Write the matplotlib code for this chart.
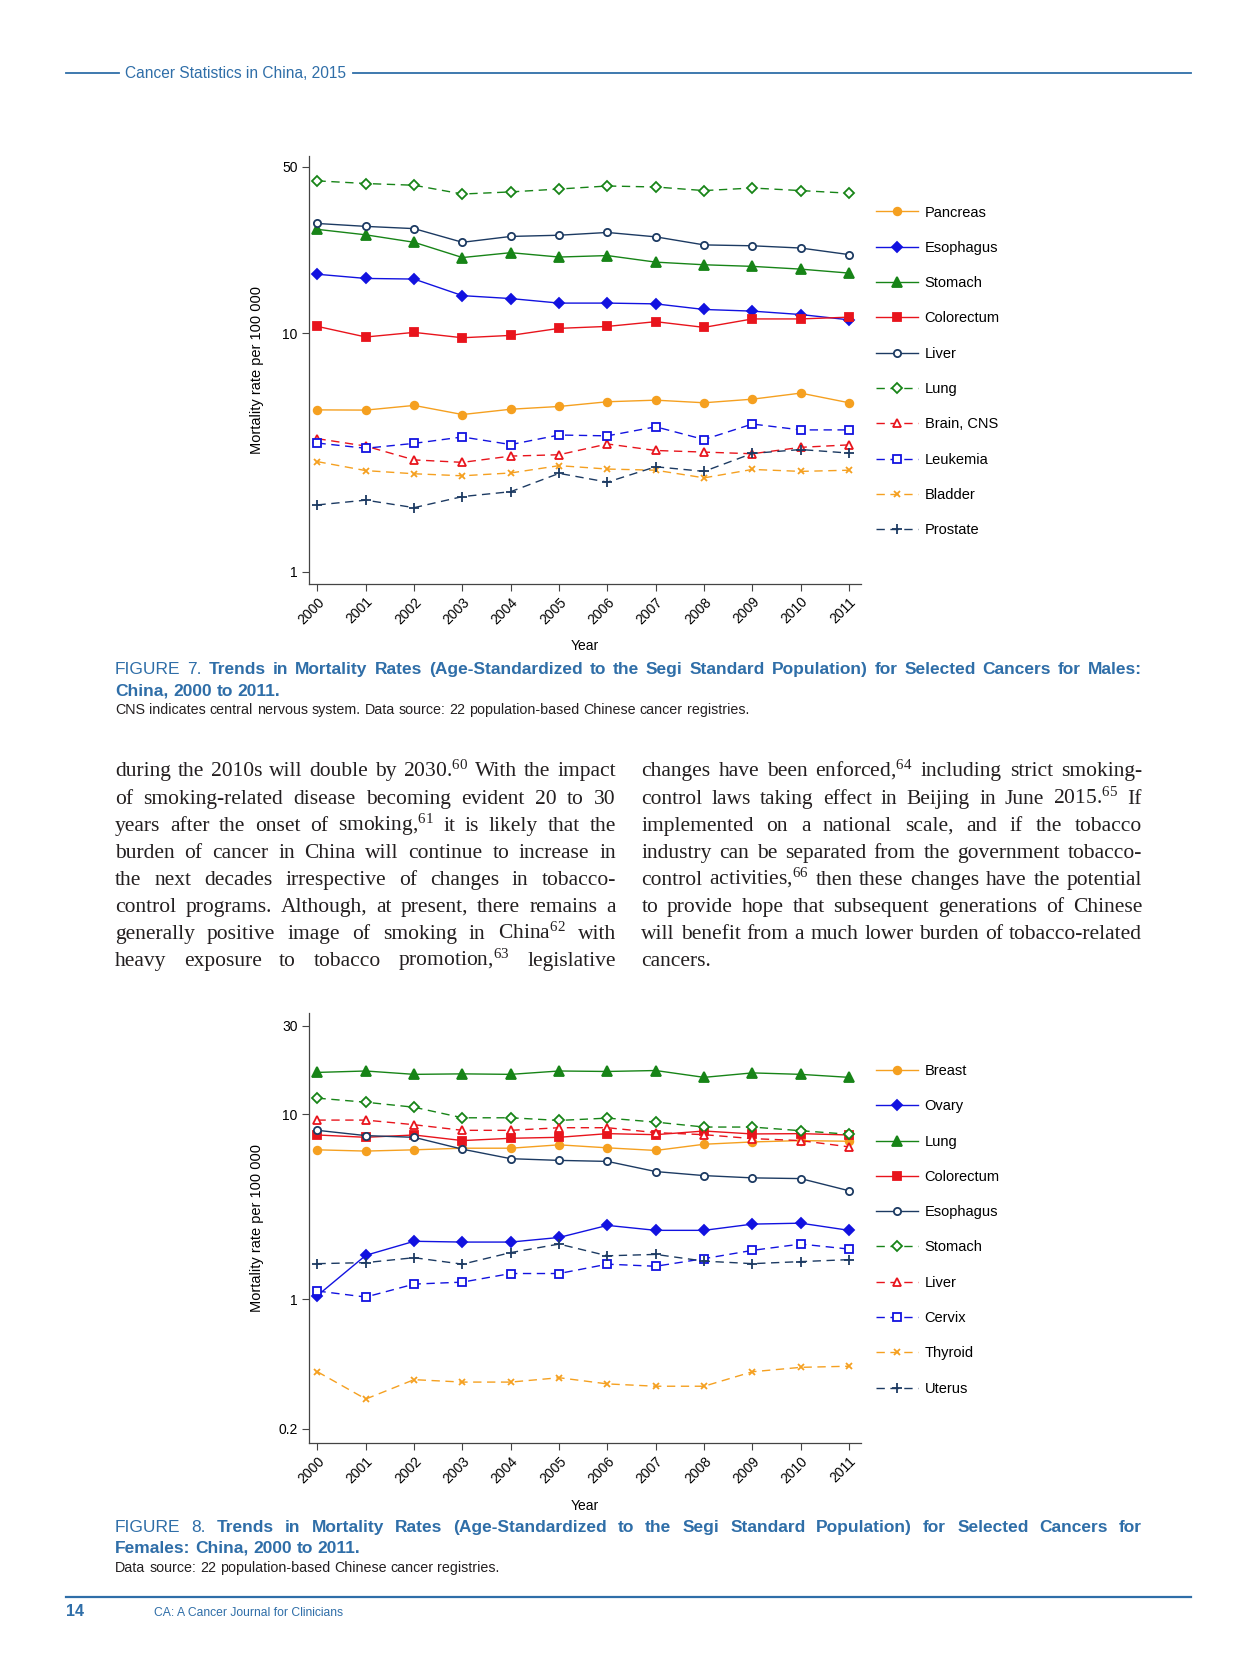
import matplotlib
matplotlib.use("Agg")
import matplotlib.pyplot as plt
from matplotlib.lines import Line2D

plt.rcParams["mathtext.fontset"] = "custom"
plt.rcParams["mathtext.rm"] = "Liberation Serif"
plt.rcParams["mathtext.it"] = "Liberation Serif:italic"

years = list(range(2000, 2012))

# Figure 7 - males
male_names = ["Pancreas", "Esophagus", "Stomach", "Colorectum", "Liver",
              "Lung", "Brain, CNS", "Leukemia", "Bladder", "Prostate"]
m_pancreas = [4.78, 4.77, 4.99, 4.57, 4.81, 4.94, 5.17, 5.25, 5.12, 5.30, 5.62, 5.12]
m_esophagus = [17.7, 17.0, 16.9, 14.4, 14.0, 13.4, 13.4, 13.3, 12.6, 12.4, 12.0, 11.4]
m_stomach = [27.3, 25.9, 24.1, 20.8, 21.8, 20.9, 21.2, 19.9, 19.4, 19.1, 18.6, 17.9]
m_colorectum = [10.7, 9.66, 10.1, 9.59, 9.81, 10.5, 10.7, 11.2, 10.6, 11.5, 11.5, 11.7]
m_liver = [28.9, 28.1, 27.5, 24.1, 25.5, 25.8, 26.5, 25.4, 23.5, 23.3, 22.8, 21.4]
m_lung = [43.6, 42.5, 41.8, 38.4, 39.2, 40.3, 41.5, 41.1, 39.7, 40.7, 39.7, 38.7]
m_brain = [3.62, 3.37, 2.95, 2.88, 3.06, 3.10, 3.44, 3.23, 3.18, 3.13, 3.33, 3.41]
m_leukemia = [3.47, 3.30, 3.46, 3.68, 3.42, 3.75, 3.72, 4.06, 3.59, 4.17, 3.94, 3.94]
m_bladder = [2.90, 2.66, 2.58, 2.53, 2.60, 2.79, 2.70, 2.67, 2.48, 2.69, 2.64, 2.67]
m_prostate = [1.91, 2.00, 1.86, 2.07, 2.17, 2.59, 2.38, 2.76, 2.64, 3.14, 3.26, 3.15]
male_series = [m_pancreas, m_esophagus, m_stomach, m_colorectum, m_liver,
               m_lung, m_brain, m_leukemia, m_bladder, m_prostate]

# Figure 8 - females
female_names = ["Breast", "Ovary", "Lung", "Colorectum", "Esophagus",
                "Stomach", "Liver", "Cervix", "Thyroid", "Uterus"]
f_breast = [6.42, 6.32, 6.42, 6.55, 6.55, 6.83, 6.58, 6.37, 6.88, 7.08, 7.20, 7.14]
f_ovary = [1.05, 1.73, 2.06, 2.04, 2.04, 2.16, 2.51, 2.36, 2.36, 2.55, 2.58, 2.36]
f_lung = [16.8, 17.1, 16.4, 16.5, 16.4, 17.1, 17.0, 17.2, 15.8, 16.7, 16.4, 15.8]
f_colorectum = [7.72, 7.50, 7.72, 7.20, 7.41, 7.50, 7.85, 7.75, 8.11, 7.82, 7.85, 7.72]
f_esophagus = [8.18, 7.66, 7.50, 6.47, 5.75, 5.63, 5.56, 4.90, 4.66, 4.53, 4.49, 3.86]
f_stomach = [12.2, 11.6, 10.9, 9.56, 9.56, 9.25, 9.52, 9.06, 8.52, 8.52, 8.14, 7.79]
f_liver = [9.29, 9.29, 8.77, 8.18, 8.18, 8.45, 8.45, 7.95, 7.75, 7.38, 7.20, 6.66]
f_cervix = [1.11, 1.03, 1.21, 1.24, 1.38, 1.38, 1.55, 1.51, 1.66, 1.84, 1.99, 1.87]
f_thyroid = [0.407, 0.290, 0.369, 0.358, 0.358, 0.378, 0.350, 0.340, 0.340, 0.407, 0.430, 0.436]
f_uterus = [1.56, 1.58, 1.68, 1.55, 1.79, 1.99, 1.72, 1.75, 1.61, 1.56, 1.60, 1.64]
female_series = [f_breast, f_ovary, f_lung, f_colorectum, f_esophagus,
                 f_stomach, f_liver, f_cervix, f_thyroid, f_uterus]

ORANGE = "#f5a020"
BLUE = "#1212e0"
GREEN = "#178417"
RED = "#e8141c"
NAVY = "#1c3a62"
HEAD = "#2f6ea8"

# colour, line style, marker, size, filled
styles = [
    (ORANGE, "-", "o", 5.5, True),
    (BLUE, "-", "D", 4.8, True),
    (GREEN, "-", "^", 6.5, True),
    (RED, "-", "s", 6.0, True),
    (NAVY, "-", "o", 5.2, False),
    (GREEN, (0, (6, 4)), "D", 4.6, False),
    (RED, (0, (6, 4)), "^", 6.0, False),
    (BLUE, (0, (6, 4)), "s", 5.2, False),
    (ORANGE, (0, (6, 4)), "x", 5.0, True),
    (NAVY, (0, (6, 4)), "+", 6.5, True),
]

PW, PH = 1179.0, 1567.0   # layout units (reference page)


def fx(x):
    return x / PW


def fy(y):
    return 1 - y / PH


fig = plt.figure(figsize=(12.56, 16.69), dpi=100)
SANS = ["Liberation Sans", "DejaVu Sans"]
NARROW = ["Liberation Sans Narrow", "Liberation Sans", "DejaVu Sans"]
SERIF = ["Liberation Serif", "DejaVu Serif"]


def draw_panel(top, bottom, names, series, ylim, yticks, ylabels, leg_top):
    ax = fig.add_axes([fx(290), fy(bottom), fx(808) - fx(290), fy(top) - fy(bottom)])
    for name, vals, (c, ls, mk, ms, filled) in zip(names, series, styles):
        ax.plot(years, vals, color=c, linestyle=ls, linewidth=1.0, marker=mk,
                markersize=ms, markerfacecolor=c if filled else "white",
                markeredgecolor=c, markeredgewidth=1.3, label=name)
    ax.set_yscale("log")
    ax.set_ylim(*ylim)
    ax.set_xlim(1999.824, 2011.243)
    ax.set_yticks(yticks)
    ax.set_yticklabels(ylabels, fontsize=10, family=SANS)
    ax.minorticks_off()
    ax.set_xticks(years)
    ax.set_xticklabels([str(y) for y in years], rotation=45, ha="right",
                       rotation_mode="anchor", fontsize=10, family=SANS)
    ax.tick_params(length=5, width=0.8, color="#444444", pad=3)
    for s in ("top", "right"):
        ax.spines[s].set_visible(False)
    for s in ("left", "bottom"):
        ax.spines[s].set_color("#444444")
        ax.spines[s].set_linewidth(0.9)
    ax.set_ylabel("Mortality rate per 100 000", fontsize=10.5, family=SANS)
    ax.yaxis.set_label_coords(-42 / 518, 0.5)
    ax.set_xlabel("Year", fontsize=10, family=SANS, va="top")
    ax.xaxis.set_label_coords(0.5, -0.13)
    ax.legend(loc="upper left", bbox_to_anchor=(fx(822), fy(leg_top)),
              bbox_transform=fig.transFigure, frameon=False, borderpad=0,
              borderaxespad=0, handlelength=2.9, handletextpad=0.45,
              labelspacing=1.46, prop={"family": SANS, "size": 10.5})
    return ax


draw_panel(146, 548, male_names, male_series, (0.893, 55.7), [1, 10, 50],
           ["1", "10", "50"], 193)
draw_panel(951, 1355, female_names, female_series, (0.1675, 35.2),
           [0.2, 1, 10, 30], ["0.2", "1", "10", "30"], 999)

renderer = fig.canvas.get_renderer()


def put_line(tokens, x0, x1, y, justify=True):
    arts = [fig.text(fx(x0), fy(y), t, ha="left", va="baseline", **p)
            for t, p in tokens]
    widths = [a.get_window_extent(renderer).width for a in arts]
    W = fig.bbox.width
    span = (fx(x1) - fx(x0)) * W
    if justify and len(arts) > 1:
        gap = (span - sum(widths)) / (len(arts) - 1)
    else:
        gap = 0.27 * tokens[0][1]["fontsize"] * fig.dpi / 72
    x = fx(x0) * W
    for a, w in zip(arts, widths):
        a.set_x(x / W)
        x += w + gap


def words(text, **props):
    return [(w, props) for w in text.split(" ")]


# header and footer rules
fig.add_artist(Line2D([fx(62), fx(112)], [fy(69), fy(69)], color=HEAD, lw=1.3))
fig.add_artist(Line2D([fx(331), fx(1118)], [fy(69), fy(69)], color=HEAD, lw=1.3))
fig.text(fx(117), fy(73), "Cancer Statistics in China, 2015", family=NARROW,
         fontsize=11.2, color=HEAD, va="baseline")
fig.add_artist(Line2D([fx(62), fx(1118)], [fy(1499), fy(1499)], color=HEAD, lw=1.6))
fig.text(fx(62), fy(1517), "14", family=NARROW, fontsize=11.5, weight="bold",
         color=HEAD, va="baseline")
fig.text(fx(145), fy(1517), "CA: A Cancer Journal for Clinicians", family=NARROW,
         fontsize=8.7, color=HEAD, va="baseline")

# figure captions
cap = dict(family=NARROW, fontsize=12.5, color=HEAD)
capb = dict(family=NARROW, fontsize=12.5, color=HEAD, weight="bold")
note = dict(family=NARROW, fontsize=10.3, color="#231f20")

put_line(words("FIGURE 7.", **cap) + words(
    "Trends in Mortality Rates (Age-Standardized to the Segi Standard "
    "Population) for Selected Cancers for Males:", **capb), 108, 1072, 633)
put_line(words("China, 2000 to 2011.", **capb), 108, 1072, 653, justify=False)
put_line(words("CNS indicates central nervous system. Data source: 22 "
               "population-based Chinese cancer registries.", **note),
         108, 1072, 670, justify=False)

put_line(words("FIGURE 8.", **cap) + words(
    "Trends in Mortality Rates (Age-Standardized to the Segi Standard "
    "Population) for Selected Cancers for", **capb), 108, 1072, 1438)
put_line(words("Females: China, 2000 to 2011.", **capb), 108, 1072, 1458,
         justify=False)
put_line(words("Data source: 22 population-based Chinese cancer registries.",
               **note), 108, 1072, 1476, justify=False)

# body text, two justified columns
body = dict(family=SERIF, fontsize=15.5, color="#231f20")
left_col = [
    "during the 2010s will double by 2030.$^{60}$ With the impact",
    "of smoking-related disease becoming evident 20 to 30",
    "years after the onset of smoking,$^{61}$ it is likely that the",
    "burden of cancer in China will continue to increase in",
    "the next decades irrespective of changes in tobacco-",
    "control programs. Although, at present, there remains a",
    "generally positive image of smoking in China$^{62}$ with",
    "heavy exposure to tobacco promotion,$^{63}$ legislative",
]
right_col = [
    "changes have been enforced,$^{64}$ including strict smoking-",
    "control laws taking effect in Beijing in June 2015.$^{65}$ If",
    "implemented on a national scale, and if the tobacco",
    "industry can be separated from the government tobacco-",
    "control activities,$^{66}$ then these changes have the potential",
    "to provide hope that subsequent generations of Chinese",
    "will benefit from a much lower burden of tobacco-related",
    "cancers.",
]
for i, line in enumerate(left_col):
    put_line(words(line, **body), 108, 578, 729 + i * 25.43)
for i, line in enumerate(right_col):
    put_line(words(line, **body), 602, 1072, 729 + i * 25.43,
             justify=(i < len(right_col) - 1))

fig.savefig("out.png", dpi=100)
